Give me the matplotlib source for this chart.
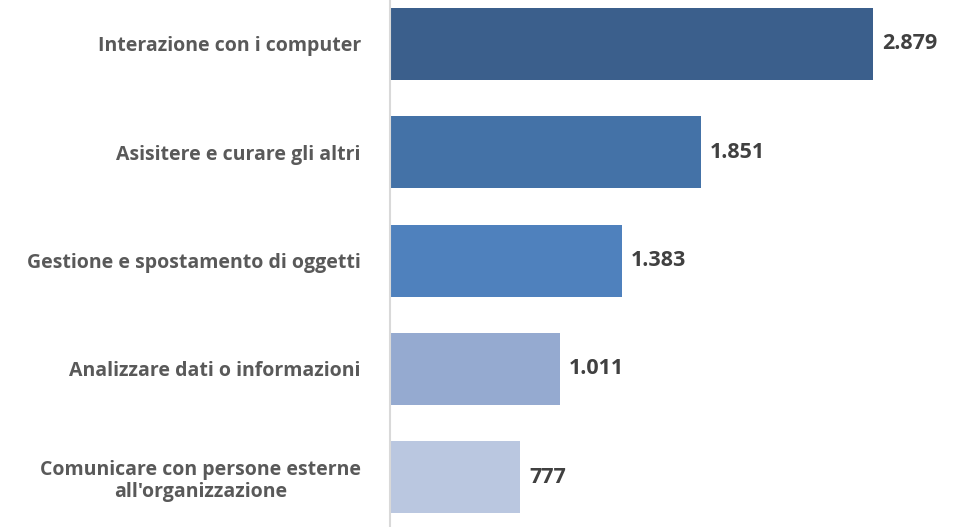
import matplotlib
matplotlib.use("Agg")
import matplotlib.pyplot as plt

categories = ["Interazione con i computer", "Asisitere e curare gli altri",
              "Gestione e spostamento di oggetti", "Analizzare dati o informazioni",
              "Comunicare con persone esterne\nall'organizzazione"]
values = [2879, 1851, 1383, 1011, 777]
value_labels = ["2.879", "1.851", "1.383", "1.011", "777"]
colors = ["#3B5F8C", "#4472A7", "#4F81BD", "#95AAD0", "#BAC7E0"]

plt.rcParams['font.family'] = ['Open Sans', 'DejaVu Sans']
fig = plt.figure(figsize=(9.69, 5.27), dpi=100)
ax = fig.add_axes([390/969, 0, 579/969, 1])
y = list(range(len(categories)))
ax.barh(y, values, height=0.665, color=colors)
ax.set_ylim(4.46, -0.406)
ax.set_xlim(0, 3451)
for s in ["top", "right", "bottom"]:
    ax.spines[s].set_visible(False)
ax.spines["left"].set_color("#D9D9D9")
ax.spines["left"].set_linewidth(1.5)
ax.set_xticks([])
ax.set_yticks(y)
ax.set_yticklabels(categories, fontsize=14, fontweight="bold", color="#595959",
                   multialignment="center", linespacing=1.15)
ax.tick_params(axis="y", length=0, pad=21)
for yi, v, lab in zip(y, values, value_labels):
    ax.text(v + 55, yi, lab, va="center", ha="left", fontsize=15.5,
            fontweight="bold", color="#404040")
fig.savefig("out.png", dpi=100)
